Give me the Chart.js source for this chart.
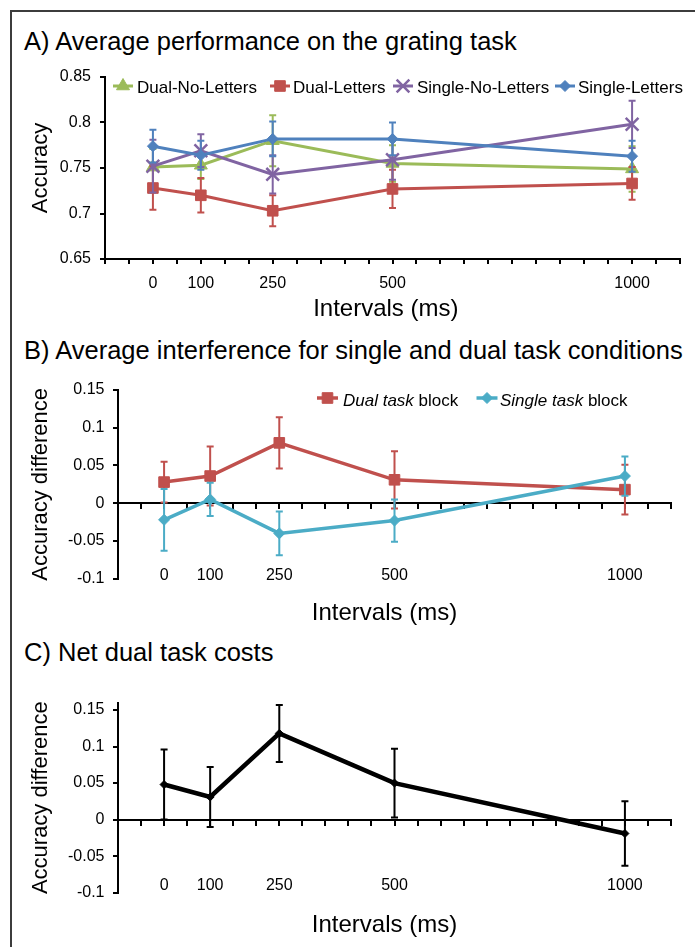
<!DOCTYPE html>
<html>
<head>
<meta charset="utf-8">
<script src="https://cdn.jsdelivr.net/npm/chart.js@4.4.1/dist/chart.umd.min.js"></script>
<style>
html,body{margin:0;padding:0;background:#fff}
body{width:695px;height:947px;position:relative;overflow:hidden;font-family:"Liberation Sans",Arial,sans-serif}
#frame{position:absolute;left:10px;top:10px;width:720px;height:960px;border-left:2px solid #3c3c3c;border-top:2px solid #3c3c3c}
.ptitle{position:absolute;left:24px;font-size:25.5px;line-height:30px;color:#000;white-space:nowrap}
canvas{position:absolute;left:0}
</style>
</head>
<body>
<div id="frame"></div>
<div class="ptitle" style="top:26px">A) Average performance on the grating task</div>
<div class="ptitle" style="top:335px">B) Average interference for single and dual task conditions</div>
<div class="ptitle" style="top:637px">C) Net dual task costs</div>
<canvas id="cA" width="695" height="270" style="top:55px;width:695px;height:270px"></canvas>
<canvas id="cB" width="695" height="265" style="top:365px;width:695px;height:265px"></canvas>
<canvas id="cC" width="695" height="272" style="top:675px;width:695px;height:272px"></canvas>
<script>
// ---------- data ----------
const intervals = [0, 100, 250, 500, 1000];
const xTickLabels = [0, 100, 250, 500, 1000];
const yTicksA = [0.65, 0.7, 0.75, 0.8, 0.85];
const yTicksDiff = [-0.1, -0.05, 0, 0.05, 0.1, 0.15];

// Panel A
const seriesNamesA = ['Dual-No-Letters', 'Dual-Letters', 'Single-No-Letters', 'Single-Letters'];
const dualNoLetters = [0.751, 0.753, 0.780, 0.755, 0.749];
const dualNoLettersErr = [0.020, 0.015, 0.028, 0.020, 0.025];
const dualLetters = [0.728, 0.720, 0.703, 0.727, 0.733];
const dualLettersErr = [0.024, 0.019, 0.017, 0.021, 0.018];
const singleNoLetters = [0.752, 0.769, 0.743, 0.759, 0.798];
const singleNoLettersErr = [0.029, 0.018, 0.021, 0.022, 0.026];
const singleLetters = [0.774, 0.764, 0.782, 0.782, 0.763];
const singleLettersErr = [0.018, 0.016, 0.019, 0.018, 0.017];

// Panel B
const seriesNamesB = ['Dual task block', 'Single task block'];
const dualTaskBlock = [0.028, 0.036, 0.080, 0.031, 0.018];
const dualTaskBlockErr = [0.027, 0.039, 0.034, 0.038, 0.033];
const singleTaskBlock = [-0.022, 0.005, -0.040, -0.023, 0.036];
const singleTaskBlockErr = [0.041, 0.022, 0.029, 0.028, 0.026];

// Panel C
const netDualTaskCost = [0.048, 0.031, 0.118, 0.050, -0.019];
const netDualTaskCostErr = [0.048, 0.041, 0.039, 0.047, 0.044];

// ---------- setup ----------
const FONT = '"Liberation Sans", Arial, sans-serif';
Chart.defaults.font.family = FONT;
Chart.defaults.color = '#000';

const pts = vals => intervals.map((x, i) => ({x: x, y: vals[i]}));

function series(label, vals, errs, color, style, radius, lineWidth, order, markerBorder) {
  return {
    label: label, data: pts(vals), errors: errs,
    borderColor: color, backgroundColor: color,
    pointBackgroundColor: color, pointBorderColor: color,
    pointStyle: style, pointRadius: radius, pointHoverRadius: radius,
    pointBorderWidth: markerBorder || 1,
    borderWidth: lineWidth, tension: 0, fill: false, order: order
  };
}

const errorBarPlugin = {
  id: 'errorBars',
  beforeDatasetDraw(chart, args) {
    const ds = chart.data.datasets[args.index];
    if (!ds.errors) return;
    const meta = args.meta;
    const xs = chart.scales[meta.xAxisID], ys = chart.scales[meta.yAxisID];
    const ctx = chart.ctx;
    ctx.save();
    ctx.strokeStyle = ds.borderColor;
    ctx.lineWidth = ds.errorWidth || 2;
    const cap = ds.capHalf || 3.5;
    ds.data.forEach((p, j) => {
      const e = ds.errors[j];
      const x = xs.getPixelForValue(p.x);
      const yt = ys.getPixelForValue(p.y + e), yb = ys.getPixelForValue(p.y - e);
      ctx.beginPath();
      ctx.moveTo(x, yt); ctx.lineTo(x, yb);
      ctx.moveTo(x - cap, yt); ctx.lineTo(x + cap, yt);
      ctx.moveTo(x - cap, yb); ctx.lineTo(x + cap, yb);
      ctx.stroke();
    });
    ctx.restore();
  }
};
Chart.register(errorBarPlugin);

function makeLegend(cfg) {
  return {
    id: 'inlineLegend',
    afterDraw(chart) {
      const ctx = chart.ctx;
      cfg.items.forEach(it => {
        const ds = chart.data.datasets[it.dataset];
        ctx.save();
        ctx.strokeStyle = ds.borderColor;
        ctx.lineWidth = ds.borderWidth;
        ctx.beginPath();
        ctx.moveTo(it.lineX, cfg.lineY);
        ctx.lineTo(it.lineX + cfg.lineLen, cfg.lineY);
        ctx.stroke();
        ctx.fillStyle = ds.borderColor;
        ctx.lineWidth = ds.pointBorderWidth;
        Chart.helpers.drawPoint(ctx, {pointStyle: ds.pointStyle, radius: ds.pointRadius, borderWidth: ds.pointBorderWidth, rotation: 0},
          it.lineX + cfg.lineLen / 2, cfg.lineY);
        ctx.fillStyle = '#000';
        ctx.textBaseline = 'middle';
        ctx.textAlign = 'left';
        let x = it.textX;
        it.parts.forEach(p => {
          ctx.font = (p.italic ? 'italic ' : '') + cfg.fontSize + 'px ' + FONT;
          ctx.fillText(p.text, x, cfg.textY);
          x += ctx.measureText(p.text).width;
        });
        ctx.restore();
      });
    }
  };
}

const axisLine = {display: true, color: '#000', width: 2};
const tickMarks = {display: true, drawOnChartArea: false, drawTicks: true, tickLength: 5, color: '#000', lineWidth: 2};
const fmt = v => String(Math.round(v * 100) / 100);

function baseOptions(padding) {
  return {
    responsive: false, animation: false, devicePixelRatio: 1, events: [],
    layout: {padding: padding},
    plugins: {legend: {display: false}, tooltip: {enabled: false}}
  };
}

// ---------- Panel A ----------
const optA = baseOptions({top: 22, right: 15, left: 0, bottom: 0});
optA.scales = {
  x: {
    type: 'linear', min: -100, max: 1100,
    afterFit: s => { s.height = 66; },
    border: axisLine, grid: tickMarks,
    ticks: {stepSize: 50, autoSkip: false, maxRotation: 0, minRotation: 0, padding: 9.5, font: {size: 16},
      callback: v => xTickLabels.includes(v) ? String(v) : ''},
    title: {display: true, text: 'Intervals (ms)  ', font: {size: 24}, padding: {top: 0, bottom: 1.5}}
  },
  y: {
    type: 'linear', min: 0.65, max: 0.85,
    afterBuildTicks: s => { s.ticks = yTicksA.map(v => ({value: v})); },
    afterFit: s => { s.width = 105; },
    border: axisLine, grid: tickMarks,
    ticks: {padding: 9, font: {size: 16}, callback: fmt},
    title: {display: true, text: 'Accuracy', font: {size: 22}, padding: {top: 27.8, bottom: 0}}
  }
};
new Chart(document.getElementById('cA'), {
  type: 'line',
  data: {datasets: [
    series(seriesNamesA[0], dualNoLetters, dualNoLettersErr, '#9BBB59', 'triangle', 7.5, 3, 4),
    series(seriesNamesA[1], dualLetters, dualLettersErr, '#C0504D', 'rect', 7.5, 3, 3),
    series(seriesNamesA[2], singleNoLetters, singleNoLettersErr, '#8064A2', 'crossRot', 9, 3, 2, 2.5),
    series(seriesNamesA[3], singleLetters, singleLettersErr, '#4F81BD', 'rectRot', 5.5, 3, 1)
  ]},
  options: optA,
  plugins: [makeLegend({
    lineY: 31, textY: 33, lineLen: 20, fontSize: 17,
    items: [
      {dataset: 0, lineX: 113, textX: 137, parts: [{text: seriesNamesA[0]}]},
      {dataset: 1, lineX: 270, textX: 293, parts: [{text: seriesNamesA[1]}]},
      {dataset: 2, lineX: 393, textX: 417, parts: [{text: seriesNamesA[2]}]},
      {dataset: 3, lineX: 555, textX: 578, parts: [{text: seriesNamesA[3]}]}
    ]
  })]
});

// ---------- Panels B & C ----------
function diffScales(xAxisHeight, labelPad, titlePadBottom, yMax) {
  return {
    x: {
      type: 'linear', min: -100, max: 1100, position: {y: 0},
      border: axisLine, grid: tickMarks,
      ticks: {display: false, stepSize: 50, autoSkip: false}
    },
    x2: {
      type: 'linear', min: -100, max: 1100, position: 'bottom',
      border: {display: false}, grid: {display: false, drawTicks: false},
      afterBuildTicks: s => { s.ticks = xTickLabels.map(v => ({value: v})); },
      afterFit: s => { s.height = xAxisHeight; },
      ticks: {autoSkip: false, maxRotation: 0, minRotation: 0, mirror: true, padding: labelPad, font: {size: 16},
        callback: v => String(v)},
      title: {display: true, text: 'Intervals (ms)   ', font: {size: 24}, padding: {top: 0, bottom: titlePadBottom}}
    },
    y: {
      type: 'linear', min: -0.1, max: yMax,
      afterBuildTicks: s => { s.ticks = yTicksDiff.map(v => ({value: v})); },
      afterFit: s => { s.width = 118; },
      border: axisLine, grid: tickMarks,
      ticks: {padding: 8.5, font: {size: 16}, callback: fmt},
      title: {display: true, text: 'Accuracy difference', font: {size: 22}, padding: {top: 27.8, bottom: 0}}
    }
  };
}

const optB = baseOptions({top: 25, right: 24, left: 0, bottom: 0});
optB.scales = diffScales(51.3, -6.2, 2.6, 0.15);
new Chart(document.getElementById('cB'), {
  type: 'line',
  data: {datasets: [
    series(seriesNamesB[0], dualTaskBlock, dualTaskBlockErr, '#C0504D', 'rect', 7.5, 3.5, 2),
    series(seriesNamesB[1], singleTaskBlock, singleTaskBlockErr, '#4BACC6', 'rectRot', 5.5, 3.5, 1)
  ]},
  options: optB,
  plugins: [makeLegend({
    lineY: 33, textY: 36.5, lineLen: 21, fontSize: 17,
    items: [
      {dataset: 0, lineX: 317, textX: 343, parts: [{text: 'Dual task', italic: true}, {text: ' block'}]},
      {dataset: 1, lineX: 476.5, textX: 500, parts: [{text: 'Single task', italic: true}, {text: ' block'}]}
    ]
  })]
});

const optC = baseOptions({top: 27.7, right: 24, left: 0, bottom: 0});
optC.scales = diffScales(54.3, -2.6, 7.6, 0.16);
new Chart(document.getElementById('cC'), {
  type: 'line',
  data: {datasets: [
    series('Net dual task costs', netDualTaskCost, netDualTaskCostErr, '#000000', 'rectRot', 4, 4.5, 1)
  ]},
  options: optC
});
</script>
</body>
</html>
